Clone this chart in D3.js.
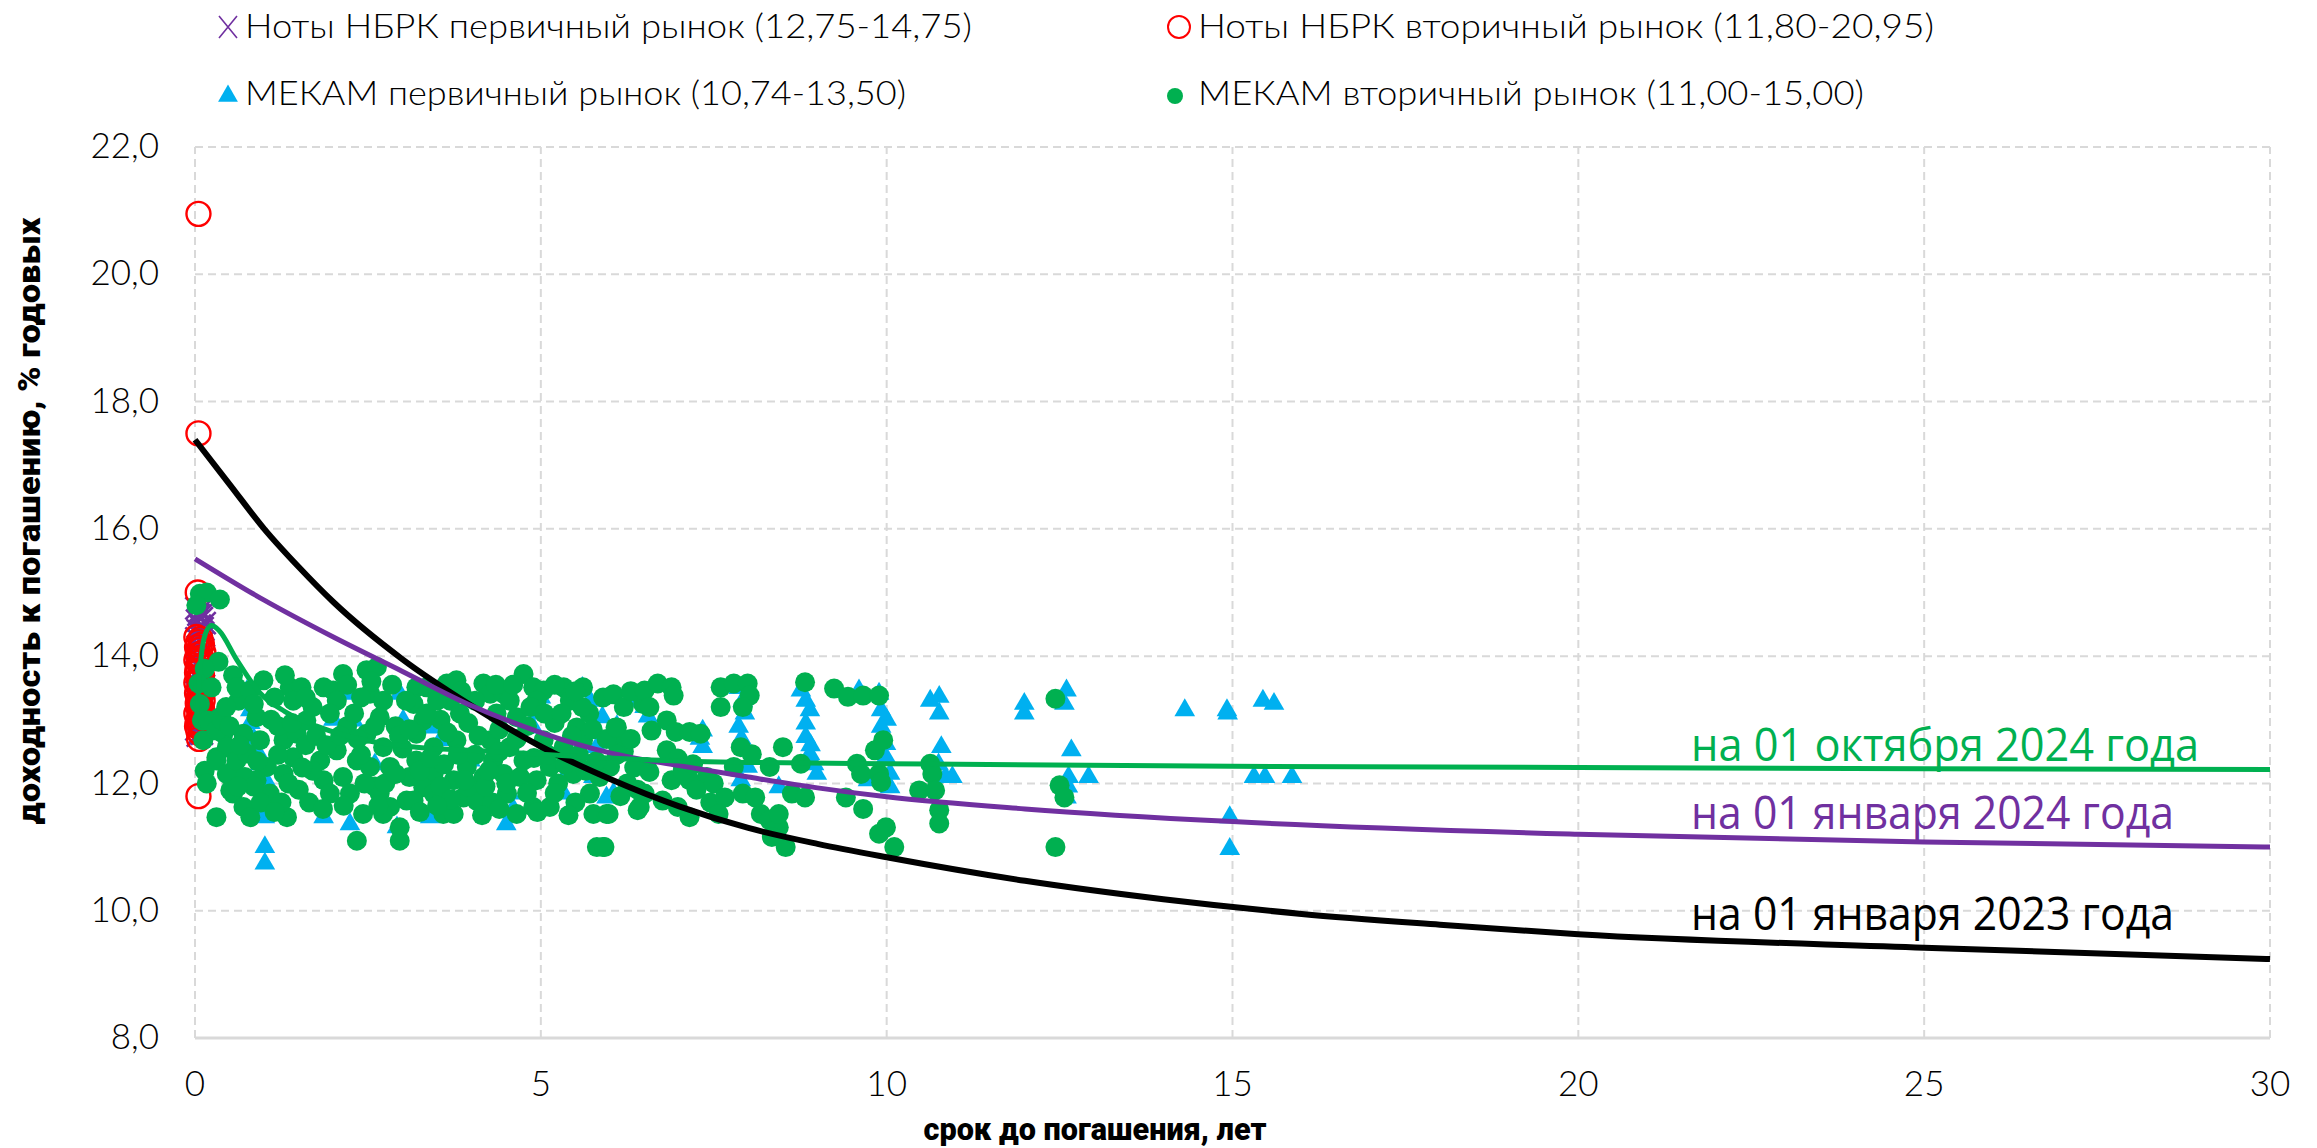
<!DOCTYPE html>
<html>
<head>
<meta charset="utf-8">
<script src="https://cdn.jsdelivr.net/npm/d3@7"></script>
<style>
  body { margin: 0; background: #fff; }
  svg text { font-family: Lato, "Open Sans", sans-serif; }
</style>
</head>
<body>
<div id="chart"></div>
<script>
(function() {
  'use strict';

  // ---- data: [срок, доходность] ----
  var notesPrimary = [
    [0.02,14.75],[0.08,14.72],[0.12,14.68],[0.05,14.65],[0.10,14.6],[0.03,14.56],[0.14,14.52],[0.07,14.48],
    [0.11,14.44],[0.04,14.4],[0.09,14.36],[0.13,14.32],[0.02,14.28],[0.06,14.24],[0.10,14.2],[0.04,14.15],
    [0.12,14.1],[0.07,14.05],[0.03,14.0],[0.10,13.95],[0.05,13.9],[0.13,13.85],[0.08,13.8],[0.02,13.75],
    [0.11,13.7],[0.06,13.65],[0.09,13.6],[0.03,13.55],[0.12,13.5],[0.07,13.45],[0.04,13.4],[0.10,13.35],
    [0.02,13.3],[0.13,13.25],[0.06,13.2],[0.09,13.15],[0.03,13.1],[0.11,13.05],[0.05,13.0],[0.08,12.95],
    [0.12,12.9],[0.02,12.85],[0.07,12.8],[0.10,12.78],[0.04,12.75]
  ];

  var notesSecondary = [
    [0.05,20.95],[0.05,17.5],[0.04,15.0],[0.05,11.8],[0.06,12.7],
    [0.02,14.3],[0.08,14.27],[0.05,14.22],[0.10,14.18],[0.03,14.14],[0.07,14.1],[0.12,14.06],[0.04,14.02],
    [0.09,13.98],[0.02,13.94],[0.06,13.9],[0.11,13.86],[0.04,13.82],[0.08,13.78],[0.03,13.74],[0.10,13.7],
    [0.05,13.66],[0.07,13.62],[0.02,13.58],[0.12,13.54],[0.06,13.5],[0.09,13.46],[0.03,13.42],[0.08,13.38],
    [0.05,13.34],[0.11,13.3],[0.04,13.26],[0.07,13.22],[0.10,13.18],[0.06,13.14],[0.02,13.1],[0.09,13.06],
    [0.12,13.02],[0.04,12.98],[0.07,12.94],[0.03,12.9],[0.10,12.86],[0.05,12.82],[0.08,12.78]
  ];

  var mekamPrimary = [
    [0.75,13.45],[0.78,13.3],[0.80,13.15],[0.80,12.95],[0.85,12.7],[0.90,12.5],[0.95,12.3],[0.98,12.1],
    [1.00,11.9],[1.00,11.75],[1.01,11.6],[1.01,11.47],[1.01,11.0],[1.01,10.74],[1.05,12.0],[1.10,11.7],
    [1.86,11.47],[2.00,13.0],[2.24,11.36],[2.29,12.99],[2.24,13.41],[2.60,12.3],[2.96,13.41],[3.01,12.99],
    [2.92,11.31],[3.40,11.47],[3.45,12.88],[3.55,12.68],[3.59,13.3],[3.83,13.41],[3.85,13.5],[3.98,12.36],
    [4.10,12.0],[4.50,11.36],[4.55,11.84],[4.60,11.6],[4.89,12.88],[4.94,13.1],[5.00,13.35],[5.33,11.84],
    [5.40,12.2],[5.60,13.5],[5.71,13.3],[5.76,12.1],[5.81,12.57],[5.89,13.04],[5.95,11.78],[6.05,11.84],
    [6.10,12.9],[6.39,13.3],[6.47,13.36],[6.50,13.2],[6.55,13.05],
    [7.30,12.7],[7.34,12.83],[7.34,12.57],
    [7.86,13.5],[7.92,13.3],[7.95,13.1],[7.86,12.89],[7.90,12.7],[7.99,12.26],[7.89,12.05],[8.44,11.94],
    [8.76,13.46],[8.83,13.3],[8.89,13.15],[8.83,12.94],[8.83,12.73],[8.90,12.6],[8.89,12.46],[8.95,12.3],[8.99,12.15],
    [9.60,13.46],[9.89,13.41],[9.92,13.15],[10.00,13.0],[9.92,12.89],[9.99,12.62],[9.99,12.41],[10.05,12.15],
    [10.05,11.94],[9.73,12.05],
    [10.63,13.3],[10.76,13.36],[10.76,13.1],[10.79,12.57],[10.75,12.3],[10.85,12.1],[10.95,12.1],
    [11.99,13.25],[11.99,13.1],
    [12.60,13.46],[12.57,13.25],[12.67,12.52],[12.63,12.1],[12.92,12.1],[12.62,11.95],[12.60,11.78],
    [14.31,13.15],
    [14.92,13.15],[14.93,13.1],[14.96,11.47],[14.96,10.97],
    [15.44,13.3],[15.60,13.25],[15.31,12.1],[15.47,12.1],[15.86,12.1]
  ];

  var mekamSecondary = [
    [0.07,14.98],[0.17,15.0],[0.36,14.89],[0.02,14.8],
    [0.34,13.91],[0.14,13.8],[0.55,13.7],[0.05,13.57],[0.24,13.51],[0.68,13.41],[0.07,13.25],[0.63,13.3],
    [0.10,12.99],[0.36,13.04],[0.12,12.68],[0.41,12.78],[0.31,12.41],[0.14,12.2],[0.17,12.0],[0.51,11.89],
    [0.55,12.2],[0.31,11.47],[0.46,12.57],[0.31,12.36],[0.46,12.15],[0.60,12.36],[0.55,11.84],[0.70,11.63],
    [0.80,11.47],[0.19,12.99],[0.31,12.83],[0.39,12.99],[0.60,13.51],
    [0.99,13.62],[0.80,13.46],[0.89,13.04],[0.70,12.78],[0.94,12.68],[0.75,12.47],[1.04,12.26],[0.89,12.05],
    [1.08,11.84],[1.33,11.47],[1.37,13.51],[1.54,13.51],[1.42,13.3],[1.28,12.68],[1.47,12.78],[1.42,12.41],
    [1.28,12.15],[1.61,12.99],[1.86,13.51],[2.00,13.46],[2.14,13.72],[2.05,13.3],[1.81,12.36],[2.05,12.52],
    [1.86,12.05],[1.95,11.84],[2.34,12.36],[2.14,12.1],[2.24,11.84],[2.43,11.52],[2.34,11.1],[2.48,13.78],
    [2.63,13.83],[2.53,13.41],[2.72,13.3],[2.67,13.04],[2.48,12.78],[2.72,12.57],[2.53,12.26],[2.82,12.26],
    [2.67,11.84],[2.82,11.63],[2.72,11.52],[2.96,11.31],[2.96,11.1],[3.06,11.73],[3.20,13.51],[3.35,13.51],
    [3.16,13.25],[3.30,12.99],[3.20,12.78],[3.45,12.57],[3.20,12.36],[3.45,12.15],[3.30,11.94],[3.45,11.84],
    [3.16,11.73],[3.59,11.52],[3.64,13.57],[3.78,13.62],[3.69,13.3],[3.83,13.1],[3.78,12.68],[3.93,12.26],
    [3.74,12.05],[3.88,11.78],[3.74,11.52],[4.07,11.73],[4.17,13.57],[4.27,13.41],[4.46,13.41],[4.75,13.72],
    [4.55,13.3],[4.89,13.51],[5.04,13.46],[4.36,13.1],[4.65,13.04],[4.94,13.3],[4.27,12.68],[4.55,12.57],
    [4.31,12.36],[4.75,12.36],[4.46,12.15],[4.17,12.1],[4.51,11.84],[4.65,11.52],[4.89,11.63],[5.13,11.63],
    [4.94,12.05],[5.13,12.26],[5.04,12.68],[5.33,13.51],[5.42,13.3],[5.61,13.51],[5.52,12.88],[5.61,12.68],
    [5.33,12.57],[5.47,12.15],[5.71,11.84],[5.76,11.52],[5.95,11.52],[5.90,11.0],[5.81,11.0],[6.00,12.26],
    [6.10,12.88],[6.05,12.68],[6.43,13.41],[6.48,13.25],[6.53,12.26],[6.43,11.63],
    [1.10,13.0],[1.20,12.9],[1.60,12.6],[1.70,12.2],[2.20,12.9],[2.35,12.7],[2.90,12.9],[3.00,12.55],
    [3.10,12.1],[3.55,13.0],[3.60,12.3],[3.95,12.95],[4.05,12.45],[4.40,12.85],[4.80,12.9],[5.20,12.95],
    [5.25,12.0],[5.55,12.45],[5.85,12.1],[5.70,13.1],[6.20,12.5],[6.25,12.0],[1.50,11.9],[2.60,11.95],
    [3.95,11.95],[4.30,11.7],
    [0.45,13.2],[0.50,12.9],[0.65,12.6],[0.72,12.1],[0.85,11.95],[0.95,11.7],[0.62,11.95],[0.85,13.25],[0.90,12.35],
    [1.15,13.35],[1.20,12.45],[1.25,11.7],[1.35,12.0],[1.40,12.95],[1.55,12.25],[1.65,11.7],[1.70,13.2],
    [1.75,12.75],[1.90,12.6],[1.95,13.1],[1.30,13.7],[1.60,13.35],[1.15,11.55],[1.85,11.6],
    [2.10,12.75],[2.15,11.65],[2.30,13.1],[2.40,12.45],[2.45,12.0],[2.55,13.6],[2.60,12.9],[2.65,11.65],
    [2.75,12.0],[2.85,13.55],[2.90,12.15],[2.95,12.75],[2.20,13.55],[2.40,13.35],
    [3.05,13.3],[3.10,12.85],[3.25,12.2],[3.35,13.1],[3.40,12.4],[3.50,13.3],[3.55,11.95],[3.65,12.8],
    [3.70,11.75],[3.80,12.45],[3.85,13.45],[3.90,12.05],[3.25,11.55],[3.50,11.65],
    [4.05,13.3],[4.10,12.75],[4.20,11.95],[4.25,12.2],[4.35,13.55],[4.40,12.5],[4.50,12.0],[4.60,13.55],
    [4.65,12.7],[4.70,12.1],[4.80,11.85],[4.85,13.2],[4.90,12.4],[4.95,11.55],[4.15,11.5],[4.40,11.6],
    [5.05,13.1],[5.10,12.45],[5.20,11.85],[5.30,13.1],[5.35,12.3],[5.45,12.75],[5.50,11.7],[5.60,13.2],
    [5.65,12.2],[5.75,12.85],[5.80,12.35],[5.90,13.35],[5.95,12.7],[5.20,13.55],[5.50,13.45],[5.40,11.5],
    [6.05,13.4],[6.10,12.45],[6.15,11.8],[6.20,13.2],[6.30,12.7],[6.35,12.25],[6.40,11.9],[6.30,13.45],
    [6.50,13.46],[6.69,13.57],[6.89,13.51],[6.92,13.38],[6.57,13.2],[6.60,12.83],[6.82,12.99],[6.95,12.81],
    [7.15,12.81],[7.31,12.78],[6.82,12.52],[6.98,12.39],[6.57,12.18],[6.89,12.05],[7.15,12.05],[6.50,11.84],
    [6.76,11.73],[6.98,11.63],[7.15,11.47],[6.40,11.58],[5.98,11.52],[5.92,11.0],[6.08,12.88],
    [7.05,12.2],[7.20,12.3],[7.40,12.1],[7.25,11.9],[7.50,12.0],[7.45,11.7],
    [7.60,13.51],[7.60,13.2],[7.79,13.57],[7.99,13.57],[8.02,13.38],[7.92,13.2],[7.89,12.57],[8.05,12.46],
    [7.79,12.26],[7.66,11.78],[7.92,11.84],[8.10,11.78],[8.18,11.52],[8.31,11.42],[8.44,11.31],[8.34,11.16],
    [8.54,11.0],[8.44,11.52],[8.31,12.26],[8.50,12.57],[8.82,13.59],[8.76,12.31],[8.63,11.84],[8.82,11.78],
    [7.57,11.52],[9.24,13.49],[9.44,13.36],[9.66,13.38],[9.89,13.38],[9.57,12.31],[9.63,12.15],[9.41,11.78],
    [9.66,11.6],[9.83,12.52],[9.95,12.68],[9.89,12.15],[9.92,12.02],[9.89,11.21],[9.99,11.31],[10.11,11.0],
    [10.63,12.31],[10.66,12.15],[10.47,11.89],[10.70,11.89],[10.76,11.58],[10.76,11.37],
    [12.44,13.33],[12.50,11.97],[12.57,11.78],[12.44,11.0]
  ];

  // кривые доходности
  var curve2023 = [
    [0,17.4],[0.5,16.7],[1,16.0],[1.5,15.4],[2,14.85],[3,13.95],[4,13.22],[5,12.58],[6,12.07],[7,11.64],
    [8,11.3],[9,11.05],[10,10.84],[12,10.47],[14,10.18],[16,9.95],[18,9.78],[20,9.63],[25,9.42],[30,9.24]
  ];
  var curve2024 = [
    [0,15.53],[1,14.88],[2,14.3],[3,13.76],[4,13.22],[5,12.8],[6,12.48],[7,12.28],[8,12.1],[9,11.93],
    [10,11.79],[12,11.6],[15,11.4],[20,11.2],[25,11.08],[30,11.0]
  ];
  var curveOct2024 = [
    [0.02,12.95],[0.08,13.9],[0.15,14.35],[0.24,14.48],[0.35,14.4],[0.6,13.95],[0.94,13.42],[1.3,13.13],
    [1.76,12.9],[2.5,12.67],[3.2,12.57],[4.2,12.51],[5.6,12.42],[6.6,12.37],[8,12.33],[10,12.31],
    [15,12.27],[20,12.25],[25,12.23],[30,12.22]
  ];

  var xTicks = [0, 5, 10, 15, 20, 25, 30];
  var yTicks = [8, 10, 12, 14, 16, 18, 20, 22];

  var legendLabels = [
    'Ноты НБРК первичный рынок (12,75-14,75)',
    'Ноты НБРК вторичный рынок (11,80-20,95)',
    'МЕКАМ первичный рынок (10,74-13,50)',
    'МЕКАМ вторичный рынок (11,00-15,00)'
  ];
  var curveLabels = ['на 01 октября 2024 года', 'на 01 января 2024 года', 'на 01 января 2023 года'];

  var colors = {purple: '#7030a0', red: '#ff0000', blue: '#00b0f0', green: '#00b050', black: '#000000'};

  var width = 2317, height = 1148,
    margin = {top: 147, right: 47, bottom: 110, left: 195};

  var svg = d3.select('#chart').append('svg')
    .attr('width', width)
    .attr('height', height)
    .style('display', 'block');

  svg.append('rect').attr('width', width).attr('height', height).attr('fill', '#fff');

  var x = d3.scaleLinear().domain([0, 30]).range([margin.left, width - margin.right]);
  var y = d3.scaleLinear().domain([8, 22]).range([height - margin.bottom, margin.top]);

  /*
  Grid
   */
  var grid = svg.append('g');
  grid.selectAll('line.h')
    .data(yTicks.filter(function(d) { return d > 8; }))
    .enter().append('line')
    .attr('class', 'h')
    .attr('x1', x(0)).attr('x2', x(30))
    .attr('y1', function(d) { return y(d); })
    .attr('y2', function(d) { return y(d); })
    .attr('stroke', '#d9d9d9').attr('stroke-width', 2)
    .attr('stroke-dasharray', '8,5');

  grid.selectAll('line.v')
    .data(xTicks)
    .enter().append('line')
    .attr('class', 'v')
    .attr('y1', y(8)).attr('y2', y(22))
    .attr('x1', function(d) { return x(d); })
    .attr('x2', function(d) { return x(d); })
    .attr('stroke', '#d9d9d9').attr('stroke-width', 2)
    .attr('stroke-dasharray', '8,5');

  // bottom axis line
  grid.append('line')
    .attr('x1', x(0)).attr('x2', x(30))
    .attr('y1', y(8)).attr('y2', y(8))
    .attr('stroke', '#d9d9d9').attr('stroke-width', 3);

  // tick labels
  var fmt = function(d) { return d3.format('.1f')(d).replace('.', ','); };
  svg.append('g').selectAll('text')
    .data(yTicks)
    .enter().append('text')
    .attr('x', x(0) - 36)
    .attr('y', function(d) { return y(d); })
    .attr('dy', '0.32em')
    .attr('text-anchor', 'end')
    .style('font-size', '35px')
    .style('font-weight', 300)
    .attr('fill', '#000')
    .text(fmt);

  svg.append('g').selectAll('text')
    .data(xTicks)
    .enter().append('text')
    .attr('x', function(d) { return x(d); })
    .attr('y', 1096)
    .attr('text-anchor', 'middle')
    .style('font-size', '35px')
    .style('font-weight', 300)
    .attr('fill', '#000')
    .text(function(d) { return d; });

  // axis titles
  svg.append('text')
    .attr('x', 1095).attr('y', 1140)
    .attr('text-anchor', 'middle')
    .attr('textLength', 343).attr('lengthAdjust', 'spacingAndGlyphs')
    .style('font-family', 'Roboto, sans-serif')
    .style('font-size', '32px').style('font-weight', 900)
    .text('срок до погашения, лет');

  svg.append('text')
    .attr('transform', 'translate(40,521) rotate(-90)')
    .attr('text-anchor', 'middle')
    .attr('textLength', 607).attr('lengthAdjust', 'spacingAndGlyphs')
    .style('font-family', 'Roboto, sans-serif')
    .style('font-size', '32px').style('font-weight', 900)
    .text('доходность к погашению, % годовых');

  /*
  Markers
   */
  var marks = svg.append('g');

  marks.append('g').selectAll('path')
    .data(notesPrimary)
    .enter().append('path')
    .attr('d', function(d) {
      var cx = x(d[0]), cy = y(d[1]), s = 11;
      return 'M' + (cx - s) + ',' + (cy - s) + 'L' + (cx + s) + ',' + (cy + s) +
             'M' + (cx - s) + ',' + (cy + s) + 'L' + (cx + s) + ',' + (cy - s);
    })
    .attr('stroke', colors.purple).attr('stroke-width', 2.6).attr('fill', 'none');

  marks.append('g').selectAll('circle')
    .data(notesSecondary)
    .enter().append('circle')
    .attr('cx', function(d) { return x(d[0]); })
    .attr('cy', function(d) { return y(d[1]); })
    .attr('r', 12)
    .attr('fill', 'none').attr('stroke', colors.red).attr('stroke-width', 2.4);

  var tri = d3.symbol().type(d3.symbolTriangle).size(185);
  marks.append('g').selectAll('path')
    .data(mekamPrimary)
    .enter().append('path')
    .attr('transform', function(d) { return 'translate(' + x(d[0]) + ',' + y(d[1]) + ')'; })
    .attr('d', tri)
    .attr('fill', colors.blue);

  marks.append('g').selectAll('circle')
    .data(mekamSecondary)
    .enter().append('circle')
    .attr('cx', function(d) { return x(d[0]); })
    .attr('cy', function(d) { return y(d[1]); })
    .attr('r', 10)
    .attr('fill', colors.green);

  /*
  Curves
   */
  var line = d3.line()
    .x(function(d) { return x(d[0]); })
    .y(function(d) { return y(d[1]); })
    .curve(d3.curveMonotoneX);

  [[curve2023, colors.black, 6], [curve2024, colors.purple, 5], [curveOct2024, colors.green, 5]]
    .forEach(function(c) {
      svg.append('path')
        .datum(c[0])
        .attr('d', line)
        .attr('fill', 'none')
        .attr('stroke', c[1])
        .attr('stroke-width', c[2]);
    });

  var labelInfo = [
    {text: curveLabels[0], color: colors.green, y: 761, w: 508},
    {text: curveLabels[1], color: colors.purple, y: 829, w: 483},
    {text: curveLabels[2], color: colors.black, y: 930, w: 483}
  ];
  svg.append('g').selectAll('text')
    .data(labelInfo)
    .enter().append('text')
    .attr('x', 1691)
    .attr('y', function(d) { return d.y; })
    .attr('textLength', function(d) { return d.w; })
    .attr('lengthAdjust', 'spacingAndGlyphs')
    .style('font-family', '"Open Sans", sans-serif')
    .style('font-size', '46px')
    .attr('fill', function(d) { return d.color; })
    .text(function(d) { return d.text; });

  /*
  Legend
   */
  var legend = svg.append('g');
  var legendItems = [
    {label: legendLabels[0], x: 245, y: 38, w: 727, mark: 'x'},
    {label: legendLabels[1], x: 1198, y: 38, w: 736, mark: 'o'},
    {label: legendLabels[2], x: 245, y: 105, w: 661, mark: 't'},
    {label: legendLabels[3], x: 1198, y: 105, w: 666, mark: 'd'}
  ];
  legendItems.forEach(function(it) {
    var mx = it.x - 17, my = it.y - 11;
    if (it.mark === 'x') {
      legend.append('path')
        .attr('d', 'M' + (mx - 9) + ',' + (my - 11) + 'L' + (mx + 9) + ',' + (my + 11) +
                   'M' + (mx - 9) + ',' + (my + 11) + 'L' + (mx + 9) + ',' + (my - 11))
        .attr('stroke', colors.purple).attr('stroke-width', 1.6);
    } else if (it.mark === 'o') {
      legend.append('circle').attr('cx', mx - 2).attr('cy', my)
        .attr('r', 11).attr('fill', 'none').attr('stroke', colors.red).attr('stroke-width', 2);
    } else if (it.mark === 't') {
      legend.append('path').attr('transform', 'translate(' + mx + ',' + (my + 2) + ')')
        .attr('d', d3.symbol().type(d3.symbolTriangle).size(170)).attr('fill', colors.blue);
    } else {
      legend.append('circle').attr('cx', mx - 6).attr('cy', my + 2)
        .attr('r', 8).attr('fill', colors.green);
    }
    legend.append('text')
      .attr('x', it.x).attr('y', it.y)
      .attr('textLength', it.w).attr('lengthAdjust', 'spacingAndGlyphs')
      .style('font-size', '33px').style('font-weight', 300)
      .text(it.label);
  });
})();
</script>
</body>
</html>
